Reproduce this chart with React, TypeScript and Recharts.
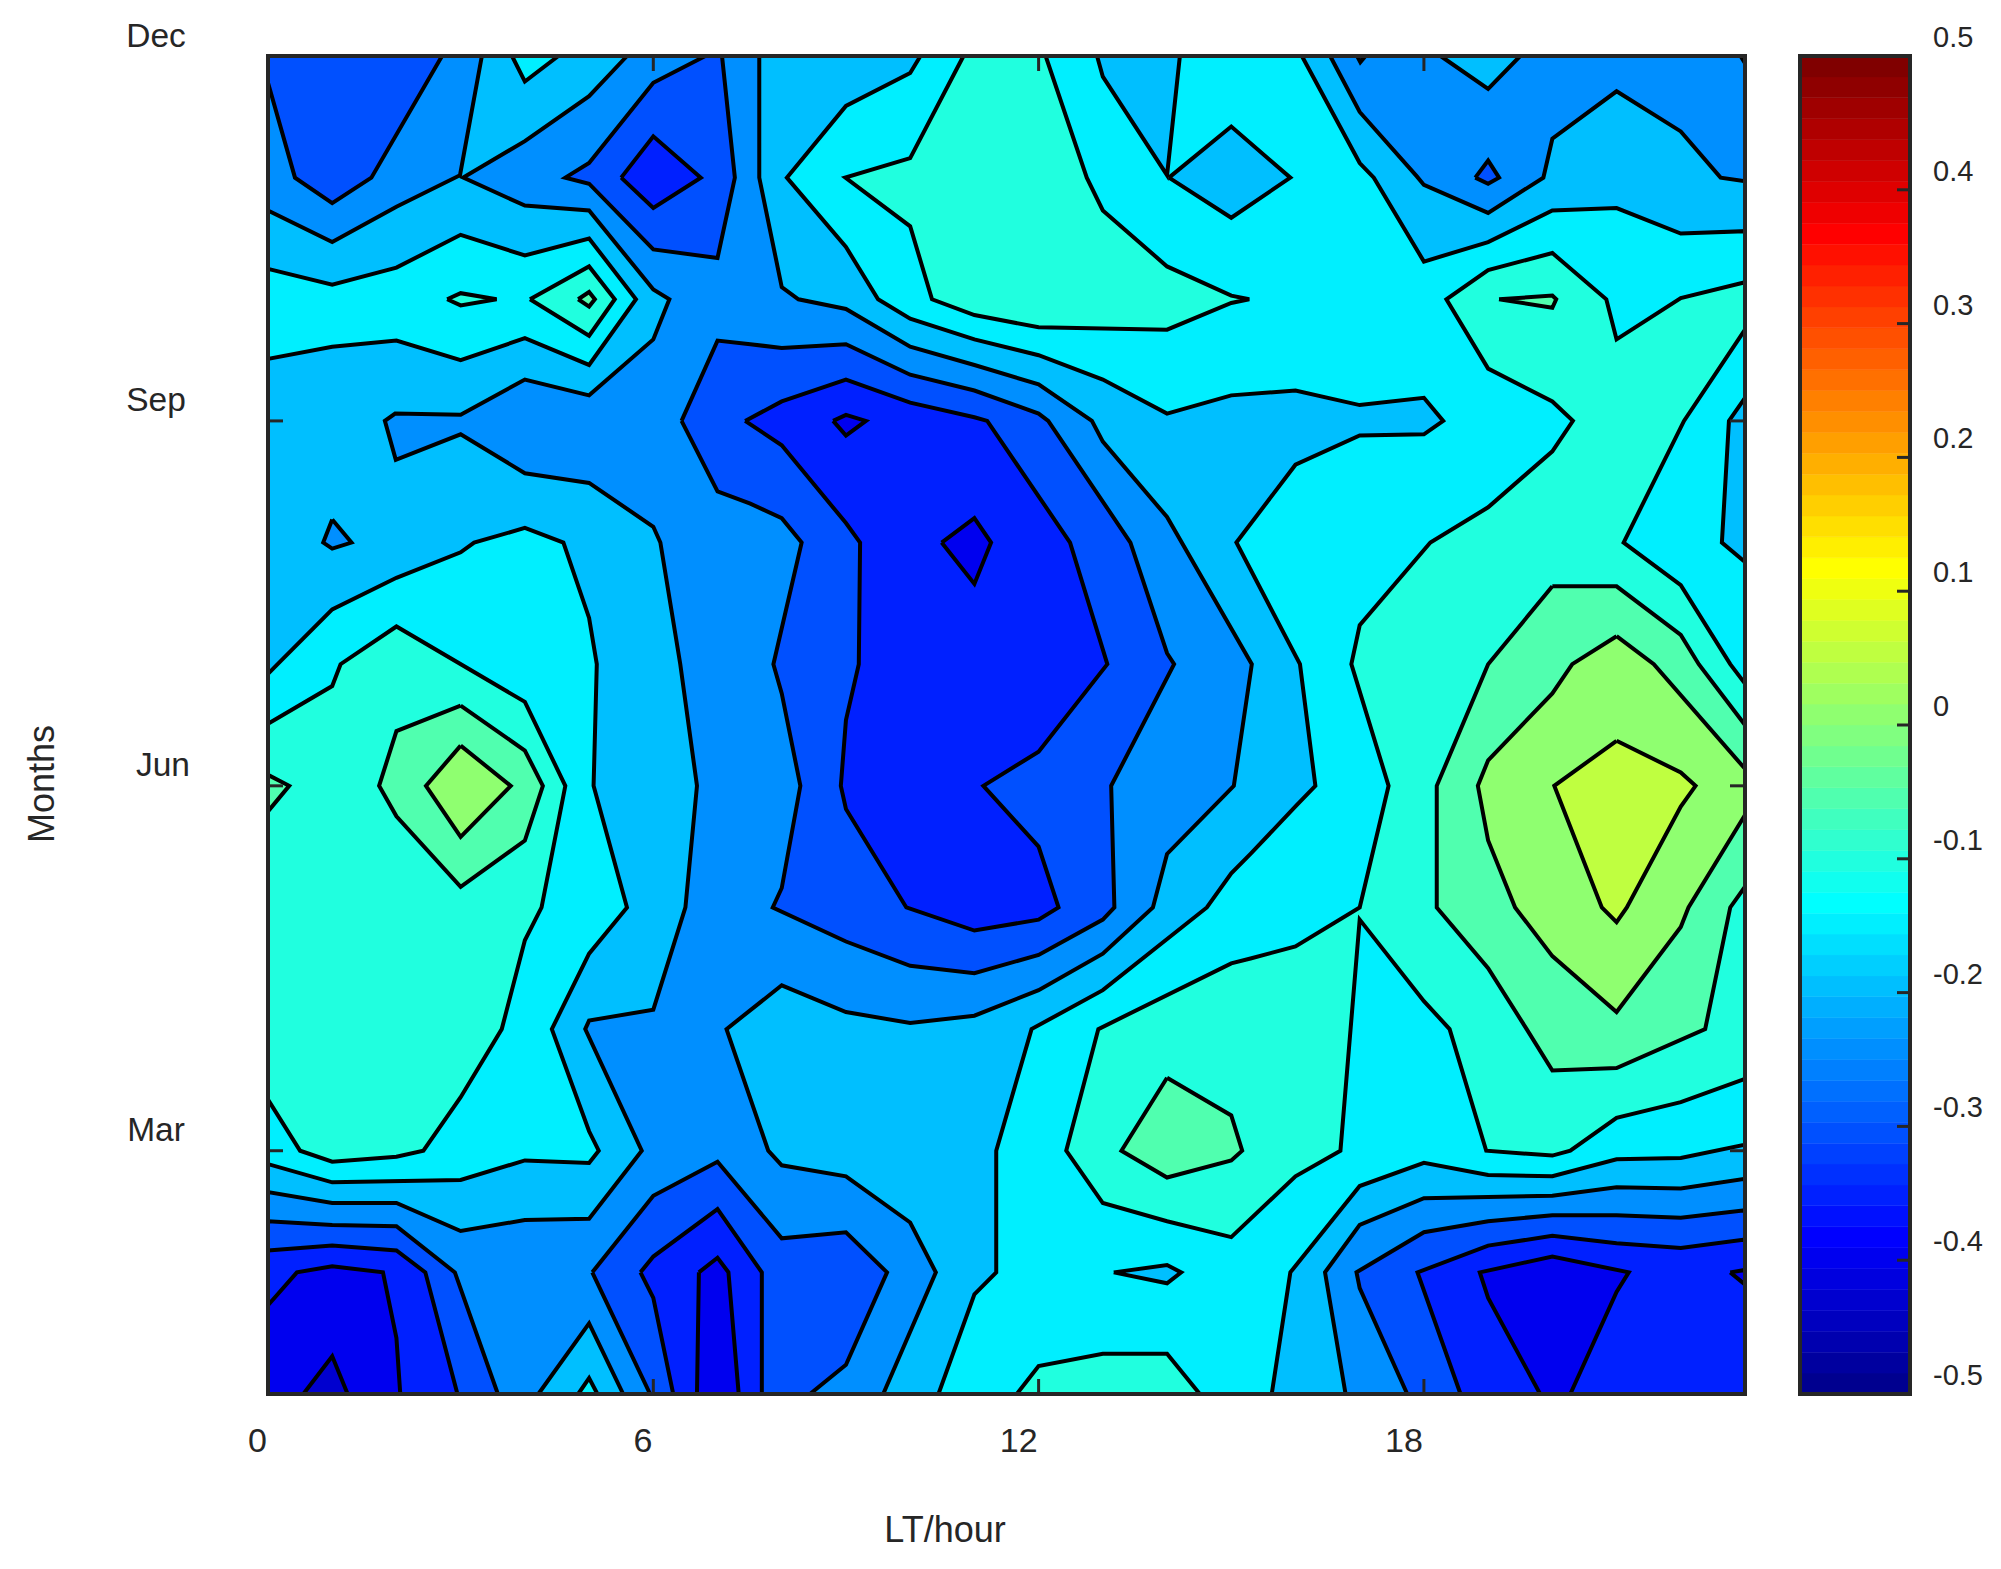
import { Label, Scatter, ScatterChart, XAxis, YAxis } from 'recharts';

type Pt = [number, number]; // [local hour, month]

const HOUR_TICKS = [0, 6, 12, 18];
const MONTH_TICKS = [3, 6, 9, 12];
const MONTH_NAMES: Record<number, string> = { 3: 'Mar', 6: 'Jun', 9: 'Sep', 12: 'Dec' };
const CBAR_TICKS = [-0.5, -0.4, -0.3, -0.2, -0.1, 0, 0.1, 0.2, 0.3, 0.4, 0.5];

// jet(64), bottom to top of the colour bar
const JET = [
  '#00008F', '#00009F', '#0000AF', '#0000BF', '#0000CF', '#0000DF', '#0000EF', '#0000FF',
  '#0010FF', '#0020FF', '#0030FF', '#0040FF', '#0050FF', '#0060FF', '#0070FF', '#0080FF',
  '#008FFF', '#009FFF', '#00AFFF', '#00BFFF', '#00CFFF', '#00DFFF', '#00EFFF', '#00FFFF',
  '#10FFEF', '#20FFDF', '#30FFCF', '#40FFBF', '#50FFAF', '#60FF9F', '#70FF8F', '#80FF80',
  '#8FFF70', '#9FFF60', '#AFFF50', '#BFFF40', '#CFFF30', '#DFFF20', '#EFFF10', '#FFFF00',
  '#FFEF00', '#FFDF00', '#FFCF00', '#FFBF00', '#FFAF00', '#FF9F00', '#FF8F00', '#FF8000',
  '#FF7000', '#FF6000', '#FF5000', '#FF4000', '#FF3000', '#FF2000', '#FF1000', '#FF0000',
  '#EF0000', '#DF0000', '#CF0000', '#BF0000', '#AF0000', '#9F0000', '#8F0000', '#800000',
];

// contour bands, lowest to highest
const BAND_Z = '#0000CF';
const BAND_A = '#0000EF';
const BAND_B = '#0020FF';
const BAND_C = '#0050FF';
const BAND_D = '#008FFF';
const BAND_E = '#00BFFF';
const BAND_F = '#00EFFF';
const BAND_G = '#20FFDF';
const BAND_H = '#50FFAF';
const BAND_I = '#8FFF70';
const BAND_J = '#BFFF40';

const BASE: Pt[] = [[0, 1], [0, 12], [23, 12], [23, 1]];

const D_MAIN: Pt[] = [
  [5.59, 12], [7.65, 12], [7.65, 11], [8, 10.1], [8.26, 10], [9, 9.92], [10, 9.61], [11, 9.46], [12, 9.3],
  [12.83, 9], [13, 8.83], [14, 8.21], [15.32, 7], [15.04, 6], [14, 5.44], [13.78, 5], [13, 4.62], [12, 4.32],
  [11, 4.11], [10, 4.05], [9, 4.14], [8, 4.36], [7.14, 4], [7.79, 3], [8, 2.88], [9, 2.79], [10, 2.41],
  [10.4, 2], [9.58, 1], [0, 1], [0, 2.66], [1, 2.57], [2, 2.57], [3, 2.34], [4, 2.43], [5, 2.44], [5.82, 3],
  [4.94, 4], [5, 4.07], [6, 4.16], [6.5, 5], [6.68, 6], [6.42, 7], [6.11, 8], [6, 8.13], [5, 8.49], [4, 8.57],
  [3, 8.89], [1.99, 8.68], [1.82, 9], [1.98, 9.06], [3, 9.05], [4, 9.34], [5, 9.21], [6, 9.67], [6.25, 10],
  [6, 10.08], [5, 10.73], [4, 10.77], [3.04, 11], [4, 11.3], [5, 11.67],
];
const D_TOP_LEFT: Pt[] = [[0, 12], [3.33, 12], [2.99, 11.02], [2, 10.76], [1, 10.47], [0, 10.73]];
const D_TOP_RIGHT: Pt[] = [
  [16.54, 12], [17, 11.54], [17.89, 11.01], [18, 10.94], [19, 10.71], [19.86, 11], [20, 11.32], [21, 11.71],
  [22, 11.38], [22.62, 11], [23, 10.97], [23, 12],
];
const D_BOTTOM_RIGHT: Pt[] = [
  [16.78, 1], [16.46, 2], [17, 2.39], [18, 2.61], [19, 2.62], [20, 2.63], [21, 2.7], [22, 2.69], [23, 2.77], [23, 1],
];
const D_SPECK: Pt[] = [[1, 8.19], [1.3, 8], [1, 7.95], [0.86, 8]];

const C_CENTER: Pt[] = [
  [6.44, 9], [7, 9.66], [7.51, 9.63], [8, 9.6], [9, 9.63], [10, 9.38], [11, 9.25], [12, 9.06], [12.15, 9],
  [13.43, 8], [14, 7.09], [14.11, 7], [13.13, 6], [13.18, 5], [13, 4.9], [12, 4.61], [11, 4.46], [10, 4.52],
  [9, 4.72], [7.86, 5], [8, 5.16], [8.29, 6], [8, 6.76], [7.87, 7], [8.31, 8], [8, 8.2], [7.51, 8.32], [7, 8.42],
];
const C_TOP_LEFT: Pt[] = [[0, 11.78], [0.42, 11], [1, 10.79], [1.61, 11], [2.71, 12], [0, 12]];
const C_TOP_MID: Pt[] = [
  [6.81, 12], [6, 11.78], [5, 11.12], [4.63, 11], [5, 10.95], [6, 10.41], [7, 10.34], [7.27, 11], [7.07, 12],
];
const C_SPECK_RIGHT: Pt[] = [[18.8, 11], [19, 11.14], [19.17, 11], [19, 10.95]];
const C_SPECK_TOP: Pt[] = [[16.96, 12], [17.01, 11.95], [17.09, 12]];
const C_SPECK_CORNER: Pt[] = [[22.93, 12], [23, 11.94], [23, 12]];
const C_BOTTOM_LEFT: Pt[] = [[0, 2.42], [1, 2.39], [2, 2.38], [2.91, 2], [3.58, 1], [0, 1]];
const C_BOTTOM_MID: Pt[] = [
  [5.05, 2], [6, 2.63], [7, 2.91], [8, 2.28], [9, 2.33], [9.64, 2], [9, 1.24], [8.44, 1], [5.95, 1],
];
const C_BOTTOM_RIGHT: Pt[] = [
  [17.74, 1], [17, 1.87], [16.95, 2], [18, 2.33], [19, 2.42], [20, 2.47], [21, 2.47], [22, 2.45], [23, 2.51], [23, 1],
];

const B_CENTER: Pt[] = [
  [7.43, 9], [8, 9.16], [9, 9.34], [10, 9.15], [11, 9.03], [11.2, 9], [12.49, 8], [13.07, 7], [12, 6.28],
  [11.14, 6], [12, 5.5], [12.31, 5], [12, 4.9], [11, 4.81], [9.94, 5], [9, 5.81], [8.92, 6], [9, 6.54],
  [9.2, 7], [9.22, 8], [9, 8.16], [8, 8.8],
];
const B_TOP: Pt[] = [[5.5, 11], [6, 11.34], [6.74, 11], [6, 10.75]];
const B_BOTTOM_LEFT: Pt[] = [[0, 2.18], [1, 2.22], [2, 2.18], [2.45, 2], [2.95, 1], [0, 1]];
const B_BOTTOM_MID: Pt[] = [[5.8, 2], [6, 2.13], [7, 2.52], [7.69, 2], [7.69, 1], [6.31, 1], [6, 1.79]];
const B_BOTTOM_RIGHT: Pt[] = [
  [18.57, 1], [17.9, 2], [19, 2.22], [20, 2.3], [21, 2.24], [22, 2.2], [23, 2.27], [23, 1],
];

const A_CENTER_TOP: Pt[] = [[8.8, 9], [9, 9.05], [9.31, 9], [9, 8.88]];
const A_CENTER: Pt[] = [[10.49, 8], [11, 8.2], [11.26, 8], [11, 7.66]];
const A_BOTTOM_LEFT: Pt[] = [[0, 1.73], [0.45, 2], [1, 2.05], [1.79, 2], [2, 1.46], [2.06, 1], [0, 1]];
const A_BOTTOM_MID: Pt[] = [[6.71, 2], [7, 2.12], [7.17, 2], [7.33, 1], [6.68, 1]];
const A_BOTTOM_RIGHT: Pt[] = [
  [19.81, 1], [19, 1.79], [18.87, 2], [20, 2.13], [21.19, 2], [21, 1.84], [20.28, 1],
];
const A_EDGE_RIGHT: Pt[] = [[22.77, 2], [23, 2.02], [23, 1.9]];
const Z_BOTTOM_LEFT: Pt[] = [[0.55, 1], [1, 1.31], [1.24, 1]];

const F_MAIN: Pt[] = [
  [10.16, 12], [16.1, 12], [17, 11.12], [17.22, 11], [18, 10.31], [19, 10.47], [20, 10.73], [21, 10.75],
  [22, 10.54], [23, 10.56], [23, 3.05], [22, 2.94], [21, 2.93], [20, 2.79], [19, 2.8], [18, 2.9], [17, 2.71],
  [15.92, 2], [15.63, 1], [10.44, 1], [11, 1.82], [11.34, 2], [11.34, 3], [11.89, 4], [13, 4.32], [14.62, 5],
  [15, 5.28], [15.3, 5.44], [16, 5.83], [16.31, 6], [16.07, 7], [15.08, 8], [16, 8.64], [17, 8.88], [18, 8.89],
  [18.3, 9], [18, 9.19], [17, 9.13], [16, 9.25], [15, 9.21], [14, 9.06], [13, 9.34], [12, 9.54], [11, 9.67],
  [10, 9.84], [9.5, 10], [9, 10.43], [8.08, 11], [9, 11.59], [10, 11.86],
];
const F_UPPER_LEFT: Pt[] = [
  [0, 10.25], [1, 10.12], [2, 10.26], [3, 10.53], [4, 10.36], [5, 10.5], [5.73, 10], [5, 9.46], [4, 9.68],
  [3, 9.5], [2, 9.66], [1, 9.61], [0, 9.51],
];
const F_LEFT: Pt[] = [
  [0, 6.92], [0.15, 7], [1, 7.45], [2, 7.71], [3, 7.92], [3.21, 8], [4, 8.12], [4.6, 8], [5, 7.38], [5.12, 7],
  [5.07, 6], [5.59, 5], [5, 4.62], [4.42, 4], [5, 3.16], [5.15, 3], [5, 2.9], [4, 2.92], [3, 2.76], [1, 2.74], [0, 2.89],
];
const F_TOP_WEDGE: Pt[] = [[3.8, 12], [4, 11.79], [4.52, 12]];
const F_BOTTOM: Pt[] = [[4.83, 1], [5, 1.13], [5.13, 1]];

const E_BOTTOM: Pt[] = [[4.21, 1], [5, 1.58], [5.53, 1]];
const E_TOP_POCKET: Pt[] = [[18.26, 12], [19, 11.73], [19.5, 12]];
const E_TOP_WEDGE: Pt[] = [[12.91, 12], [13, 11.83], [14, 11.02], [14.2, 12]];
const E_DIAMOND: Pt[] = [[14.03, 11], [15, 11.42], [15.92, 11], [15, 10.67]];
const E_RIGHT_EDGE: Pt[] = [[23, 9.19], [22.75, 9], [22.64, 8], [23, 7.84]];
const E_SLIVER: Pt[] = [[13.17, 2], [14, 2.06], [14.22, 2], [14, 1.91]];

const G_RIGHT: Pt[] = [
  [23, 10.14], [23, 9.75], [22.05, 9], [21.11, 8], [22, 7.65], [22.77, 7], [23, 6.84], [23, 3.59], [22, 3.4],
  [21, 3.27], [20.28, 3], [20, 2.96], [18.97, 3], [18.4, 4], [18, 4.23], [17, 4.9], [16.7, 3], [16, 2.79],
  [15, 2.29], [14, 2.42], [13, 2.57], [12.43, 3], [12.93, 4], [15, 4.54], [15.3, 4.58], [16, 4.68], [17, 5],
  [17.45, 6], [16.87, 7], [17, 7.32], [18.1, 8], [19, 8.29], [20, 8.75], [20.32, 9], [20, 9.16], [19, 9.43],
  [18.35, 10], [19, 10.24], [20, 10.38], [20.84, 10], [21, 9.67], [22, 10.01],
];
const G_TOP_MID: Pt[] = [
  [10.83, 12], [12.11, 12], [12.75, 11], [13, 10.73], [14, 10.27], [15, 10.03], [15.28, 10], [15, 9.97],
  [14, 9.75], [12, 9.77], [11, 9.87], [10.34, 10], [10, 10.6], [8.99, 11], [10, 11.16],
];
const G_LEFT: Pt[] = [
  [0, 6.51], [1, 6.82], [1.13, 7], [2, 7.31], [4, 6.69], [4.63, 6], [4.26, 5], [4, 4.73], [3.64, 4], [3, 3.44],
  [2.42, 3], [2, 2.95], [1, 2.91], [0.5, 3], [0, 3.42],
];
const G_UPPER_LEFT: Pt[] = [[4.08, 10], [5, 10.27], [5.4, 10], [5, 9.7]];
const G_UPPER_SLIVER: Pt[] = [[2.79, 10], [3, 10.05], [3.56, 10], [3, 9.95]];
const G_BOTTOM: Pt[] = [[11.66, 1], [12, 1.23], [13, 1.33], [14, 1.33], [14.51, 1]];

const H_RIGHT: Pt[] = [
  [20, 7.64], [21, 7.64], [22, 7.24], [22.28, 7], [23, 6.5], [23, 5.17], [22.77, 5], [22.38, 4], [21, 3.68],
  [20, 3.66], [19.6, 4], [19, 4.5], [18.2, 5], [18.2, 6], [19, 7],
];
const H_LOWER_MID: Pt[] = [[14, 3.6], [15, 3.29], [15.17, 3], [15, 2.92], [14, 2.78], [13.29, 3]];
const H_LEFT: Pt[] = [
  [3, 6.66], [4, 6.29], [4.28, 6], [4, 5.55], [3, 5.17], [2, 5.75], [1.73, 6], [2, 6.45],
];
const H_EDGE_LEFT: Pt[] = [[0, 6.09], [0.33, 6], [0, 5.79]];
const H_UPPER_LEFT: Pt[] = [[4.83, 10], [5, 10.06], [5.09, 10], [5, 9.94]];
const H_UPPER_RIGHT: Pt[] = [[19.17, 10], [20, 10.03], [20.06, 10], [20, 9.93]];

const I_RIGHT: Pt[] = [
  [21, 7.23], [21.58, 7], [23, 6.14], [23, 5.76], [22.12, 5], [22, 4.84], [21, 4.14], [20, 4.6], [19.42, 5],
  [19, 5.55], [18.84, 6], [19, 6.21], [20, 6.76], [20.31, 7],
];
const I_LEFT: Pt[] = [[3, 6.33], [3.78, 6], [3, 5.58], [2.46, 6]];
const J_RIGHT: Pt[] = [
  [21, 6.37], [22, 6.11], [22.23, 6], [22, 5.83], [21.16, 5], [21, 4.88], [20.77, 5], [20.03, 6],
];

// painted back to front, inner contours last
const LAYERS: [string, Pt[]][] = [
  [BAND_E, BASE],
  [BAND_D, D_MAIN], [BAND_D, D_TOP_LEFT], [BAND_D, D_TOP_RIGHT], [BAND_D, D_BOTTOM_RIGHT], [BAND_D, D_SPECK],
  [BAND_C, C_CENTER], [BAND_C, C_TOP_LEFT], [BAND_C, C_TOP_MID], [BAND_C, C_SPECK_RIGHT], [BAND_C, C_SPECK_TOP],
  [BAND_C, C_SPECK_CORNER], [BAND_C, C_BOTTOM_LEFT], [BAND_C, C_BOTTOM_MID], [BAND_C, C_BOTTOM_RIGHT],
  [BAND_B, B_CENTER], [BAND_B, B_TOP], [BAND_B, B_BOTTOM_LEFT], [BAND_B, B_BOTTOM_MID], [BAND_B, B_BOTTOM_RIGHT],
  [BAND_A, A_CENTER_TOP], [BAND_A, A_CENTER], [BAND_A, A_BOTTOM_LEFT], [BAND_A, A_BOTTOM_MID],
  [BAND_A, A_BOTTOM_RIGHT], [BAND_A, A_EDGE_RIGHT],
  [BAND_Z, Z_BOTTOM_LEFT],
  [BAND_E, E_BOTTOM], [BAND_E, E_TOP_POCKET],
  [BAND_F, F_MAIN], [BAND_F, F_UPPER_LEFT], [BAND_F, F_LEFT], [BAND_F, F_TOP_WEDGE], [BAND_F, F_BOTTOM],
  [BAND_E, E_TOP_WEDGE], [BAND_E, E_DIAMOND], [BAND_E, E_RIGHT_EDGE], [BAND_E, E_SLIVER],
  [BAND_G, G_RIGHT], [BAND_G, G_TOP_MID], [BAND_G, G_LEFT], [BAND_G, G_UPPER_LEFT], [BAND_G, G_UPPER_SLIVER],
  [BAND_G, G_BOTTOM],
  [BAND_H, H_RIGHT], [BAND_H, H_LOWER_MID], [BAND_H, H_LEFT], [BAND_H, H_EDGE_LEFT], [BAND_H, H_UPPER_LEFT],
  [BAND_H, H_UPPER_RIGHT],
  [BAND_I, I_RIGHT], [BAND_I, I_LEFT],
  [BAND_J, J_RIGHT],
];

const INK = '#262626';
const FONT = '"Liberation Sans", Arial, sans-serif';
const frame = { stroke: INK, strokeWidth: 4, strokeLinecap: 'square' as const };
const tickMark = { stroke: INK, strokeWidth: 3 };
const TOP_Z = 900;

const toRows = (pts: Pt[]) => [...pts, pts[0]].map(([hour, month]) => ({ hour, month }));
const bandRows = (i: number) => {
  const lo = -0.5 + i / JET.length;
  const hi = -0.5 + (i + 1) / JET.length;
  return [{ x: 0, v: lo }, { x: 0, v: hi }, { x: 1, v: hi }, { x: 1, v: lo }, { x: 0, v: lo }];
};

const NoLabel = () => <g />;

const HourTick = ({ x, y, payload }: any) => (
  <text x={x - 1} y={y} textAnchor="end" fontFamily={FONT} fontSize={34} fill={INK}>
    {payload.value}
  </text>
);

const MonthTick = ({ x, y, payload }: any) => {
  const name = MONTH_NAMES[payload.value];
  return (
    <text x={x - 127 + (name === 'Jun' ? 7 : 0)} y={y - 9.5} textAnchor="middle" fontFamily={FONT} fontSize={33.5} fill={INK}>
      {name}
    </text>
  );
};

const CbarTick = ({ x, y, payload }: any) => (
  <text x={x} y={y - 9} textAnchor="start" fontFamily={FONT} fontSize={29} fill={INK}>
    {String(payload.value)}
  </text>
);

const ContourMap = () => (
  <ScatterChart width={2001} height={1569} margin={{ top: 46, left: 258, right: 246, bottom: 115 }}>
    {LAYERS.map(([color, pts], i) => (
      <Scatter
        key={i}
        data={toRows(pts)}
        isAnimationActive={false}
        shape={() => <g />}
        line={{ stroke: '#000', strokeWidth: 4, fill: color }}
      />
    ))}
    <Scatter
      xAxisId="top"
      yAxisId="right"
      data={toRows(BASE)}
      isAnimationActive={false}
      shape={() => <g />}
    />
    <XAxis
      type="number"
      dataKey="hour"
      domain={[0, 23]}
      ticks={HOUR_TICKS}
      interval={0}
      height={60}
      axisLine={frame}
      tickLine={tickMark}
      tickSize={-15}
      tickMargin={73}
      tick={HourTick}
      zIndex={TOP_Z}
    >
      <Label
        content={() => (
          <text x={945} y={1542} textAnchor="middle" fontFamily={FONT} fontSize={36} fill={INK}>
            LT/hour
          </text>
        )}
      />
    </XAxis>
    <XAxis
      xAxisId="top"
      orientation="top"
      type="number"
      dataKey="hour"
      domain={[0, 23]}
      ticks={HOUR_TICKS}
      interval={0}
      height={10}
      axisLine={frame}
      tickLine={tickMark}
      tickSize={-15}
      tick={NoLabel}
      zIndex={TOP_Z}
    />
    <YAxis
      type="number"
      dataKey="month"
      domain={[1, 12]}
      ticks={MONTH_TICKS}
      interval={0}
      width={10}
      axisLine={frame}
      tickLine={tickMark}
      tickSize={-15}
      tickMargin={0}
      tick={MonthTick}
      zIndex={TOP_Z}
    >
      <Label
        content={() => (
          <text x={54} y={784} transform="rotate(-90 54 784)" textAnchor="middle" fontFamily={FONT} fontSize={36} fill={INK}>
            Months
          </text>
        )}
      />
    </YAxis>
    <YAxis
      yAxisId="right"
      orientation="right"
      type="number"
      dataKey="month"
      domain={[1, 12]}
      ticks={MONTH_TICKS}
      interval={0}
      width={10}
      axisLine={frame}
      tickLine={tickMark}
      tickSize={-15}
      tick={NoLabel}
      zIndex={TOP_Z}
    />
  </ScatterChart>
);

const ColourBar = () => (
  <ScatterChart width={261} height={1569} margin={{ top: 46, left: 50, right: 0, bottom: 165 }}>
    {JET.map((color, i) => (
      <Scatter
        key={color}
        data={bandRows(i)}
        isAnimationActive={false}
        shape={() => <g />}
        line={{ stroke: color, strokeWidth: 0.5, fill: color }}
      />
    ))}
    <Scatter
      xAxisId="top"
      yAxisId="right"
      data={bandRows(0)}
      isAnimationActive={false}
      shape={() => <g />}
    />
    <XAxis type="number" dataKey="x" domain={[0, 1]} height={10} axisLine={frame} tickLine={false} tick={false} zIndex={TOP_Z} />
    <XAxis xAxisId="top" orientation="top" type="number" dataKey="x" domain={[0, 1]} height={10} axisLine={frame} tickLine={false} tick={false} zIndex={TOP_Z} />
    <YAxis type="number" dataKey="v" domain={[-0.5, 0.5]} width={10} axisLine={frame} tickLine={false} tick={false} zIndex={TOP_Z} />
    <YAxis
      yAxisId="right"
      orientation="right"
      type="number"
      dataKey="v"
      domain={[-0.5, 0.5]}
      ticks={CBAR_TICKS}
      interval={0}
      width={91}
      axisLine={frame}
      tickLine={tickMark}
      tickSize={-13}
      tickMargin={36}
      tick={CbarTick}
      zIndex={TOP_Z}
    />
  </ScatterChart>
);

export default function App() {
  return (
    <div style={{ position: 'absolute', left: 0, top: 0, width: 2001, height: 1569, background: '#fff' }}>
      <ContourMap />
      <div style={{ position: 'absolute', left: 1740, top: 0 }}>
        <ColourBar />
      </div>
    </div>
  );
}
